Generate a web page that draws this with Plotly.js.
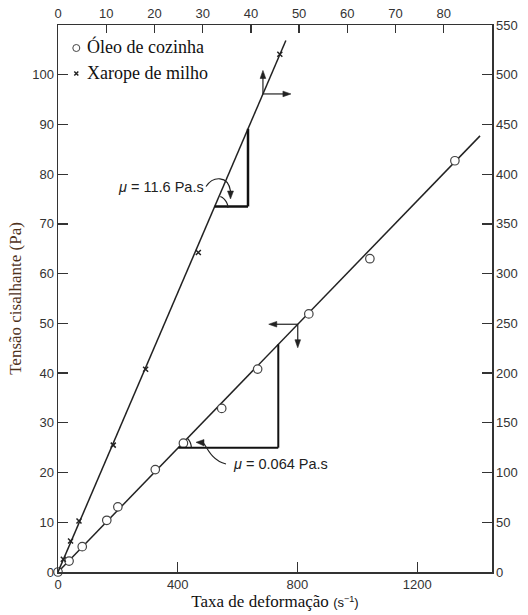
<!DOCTYPE html>
<html><head><meta charset="utf-8">
<script src="https://cdn.plot.ly/plotly-3.0.1.min.js"></script>
<style>html,body{margin:0;padding:0;background:#fff}</style>
</head><body>
<div id="chart" style="width:528px;height:615px"></div>
<script>
// Óleo de cozinha — eixo inferior (taxa, s^-1) e eixo esquerdo (tensão, Pa)
const oilRate   = [0, 37, 81, 163, 200, 325, 419, 547, 667, 838, 1042, 1326];
const oilStress = [0, 2.2, 5.1, 10.4, 13.1, 20.6, 25.9, 32.9, 40.8, 51.9, 63.0, 82.7];
const oilFitRate   = [0, 1410];
const oilFitStress = [0, 87.7];
// Xarope de milho — eixo superior (taxa) e eixo direito (tensão)
const syrupRate   = [1.1, 2.6, 4.35, 11.46, 18.17, 29.1, 46.0];
const syrupStress = [12.8, 31.2, 51.3, 127.6, 203.8, 321.2, 520.6];
const syrupFitRate   = [0, 47.25];
const syrupFitStress = [0, 534.4];
// Ticks
const bottomTicks = [0, 400, 800, 1200];
const leftTicks   = [0, 10, 20, 30, 40, 50, 60, 70, 80, 90, 100];
const topTicks    = [0, 10, 20, 30, 40, 50, 60, 70, 80];
const rightTicks  = [0, 50, 100, 150, 200, 250, 300, 350, 400, 450, 500, 550];

const W = 528, H = 615, ML = 58, MR = 36, MT = 25, MB = 43;
const PW = W - ML - MR, PH = H - MT - MB;
const X1 = [0, 1450], Y1 = [0, 110], X2 = [0, 90], Y2 = [0, 550];
const fx = px => (px - ML) / PW;
const fy = py => (H - MB - py) / PH;
const P = (px, py) => fx(px).toFixed(5) + ',' + fy(py).toFixed(5);
const pxX = (v, r) => ML + (v - r[0]) / (r[1] - r[0]) * PW;
const pxY = (v, r) => H - MB - (v - r[0]) / (r[1] - r[0]) * PH;

const oilSlope = oilFitStress[1] / oilFitRate[1];
const syrSlope = syrupFitStress[1] / syrupFitRate[1];

const ink = '#222';
const sans = 'Liberation Sans, Arial, sans-serif';
const serif = 'Liberation Serif, Times New Roman, serif';
const tickFont = {family: sans, size: 13, color: '#333'};

const traces = [
  {x: oilFitRate, y: oilFitStress, mode: 'lines', line: {color: ink, width: 1.5},
   xaxis: 'x', yaxis: 'y', showlegend: false, hoverinfo: 'skip'},
  {x: syrupFitRate, y: syrupFitStress, mode: 'lines', line: {color: ink, width: 1.5},
   xaxis: 'x2', yaxis: 'y2', showlegend: false, hoverinfo: 'skip'},
  {x: syrupRate, y: syrupStress, mode: 'markers', name: 'Xarope de milho',
   marker: {symbol: 'x-thin-open', size: 5, color: ink, line: {color: ink, width: 1.5}},
   xaxis: 'x2', yaxis: 'y2', showlegend: false, cliponaxis: false},
  {x: oilRate, y: oilStress, mode: 'markers', name: 'Óleo de cozinha',
   marker: {symbol: 'circle', size: 8.5, color: '#fff', line: {color: '#444', width: 1.2}},
   xaxis: 'x', yaxis: 'y', showlegend: false, cliponaxis: false}
];

function arcPath(cx, cy, r, a0, a1) {
  let d = '';
  const n = 12;
  for (let i = 0; i <= n; i++) {
    const a = (a0 + (a1 - a0) * i / n) * Math.PI / 180;
    d += (i ? ' L' : 'M') + P(cx + r * Math.cos(a), cy - r * Math.sin(a));
  }
  return d;
}
const pathShape = (d, w, fill) => ({type: 'path', xref: 'paper', yref: 'paper', path: d,
  line: {color: ink, width: w}, fillcolor: fill || 'rgba(0,0,0,0)'});

// arrow (pixel coords) from (x0,y0) to tip (x1,y1)
function arrowShapes(x0, y0, x1, y1) {
  const L = Math.hypot(x1 - x0, y1 - y0), ux = (x1 - x0) / L, uy = (y1 - y0) / L;
  const hl = 8, hw = 2.8;
  const bx = x1 - ux * hl, by = y1 - uy * hl;
  return [
    pathShape('M' + P(x0, y0) + ' L' + P(bx + ux, by + uy), 1.2),
    pathShape('M' + P(x1, y1) + ' L' + P(bx - uy * hw, by + ux * hw) + ' L' + P(bx + uy * hw, by - ux * hw) + ' Z', 0.6, ink)
  ];
}

// triangle anchors
const sx0 = 32.5, sx1 = 39.4;
const ox0 = 402, ox1 = 736;
// arrow junctions on fitted lines
const sj = 42.5, oj = 801;
const sjx = pxX(sj, X2), sjy = pxY(syrSlope * sj, Y2);
const ojx = pxX(oj, X1), ojy = pxY(oilSlope * oj, Y1);

const shapes = [
  // syrup slope triangle
  {type: 'line', xref: 'x2', yref: 'y2', x0: sx0, y0: syrSlope * sx0, x1: sx1, y1: syrSlope * sx0, line: {color: '#111', width: 2.5}},
  {type: 'line', xref: 'x2', yref: 'y2', x0: sx1, y0: syrSlope * sx0, x1: sx1, y1: syrSlope * sx1, line: {color: '#111', width: 2.5}},
  // oil slope triangle
  {type: 'line', xref: 'x', yref: 'y', x0: ox0, y0: oilSlope * ox0, x1: ox1, y1: oilSlope * ox0, line: {color: '#111', width: 2}},
  {type: 'line', xref: 'x', yref: 'y', x0: ox1, y0: oilSlope * ox0, x1: ox1, y1: oilSlope * ox1, line: {color: '#111', width: 2}},
  // angle arcs
  pathShape(arcPath(215, 208.3, 13, 66, 2), 1.2),
  pathShape(arcPath(178.3, 447.7, 13, 45, 2), 1.2),
  // leaders
  pathShape('M' + P(206, 186.5) + ' C' + P(213, 176) + ' ' + P(228, 175) + ' ' + P(230.5, 191), 1.2),
  pathShape('M' + P(227.5, 191) + ' L' + P(233.5, 191) + ' L' + P(230.5, 199) + ' Z', 0.5, ink),
  pathShape('M' + P(226, 464) + ' C' + P(214, 461) + ' ' + P(209, 452) + ' ' + P(204, 443.5), 1.2),
  pathShape('M' + P(204, 439.5) + ' L' + P(204, 446) + ' L' + P(196, 442.3) + ' Z', 0.5, ink),
  // axis-direction arrows
  ...arrowShapes(sjx, sjy, sjx, sjy - 23.5),
  ...arrowShapes(sjx, sjy, sjx + 28, sjy),
  ...arrowShapes(ojx, ojy, ojx - 29, ojy),
  ...arrowShapes(ojx, ojy, ojx, ojy + 23.5),
  // legend symbols
  {type: 'circle', xref: 'paper', yref: 'paper', xsizemode: 'pixel', ysizemode: 'pixel',
   xanchor: fx(76.3), yanchor: fy(48), x0: -3.5, x1: 3.5, y0: -3.5, y1: 3.5, line: {color: '#444', width: 1}},
  {type: 'path', xref: 'paper', yref: 'paper', xsizemode: 'pixel', ysizemode: 'pixel',
   xanchor: fx(76.3), yanchor: fy(73.5), path: 'M-2,-2 L2,2 M-2,2 L2,-2', line: {color: ink, width: 1.5}}
];

const annotations = [
  {xref: 'paper', yref: 'paper', x: fx(206), y: fy(187), xanchor: 'right', yanchor: 'middle',
   text: '<i>μ</i> = 11.6 Pa.s', showarrow: false, font: {family: sans, size: 14.5, color: ink}},
  {xref: 'paper', yref: 'paper', x: fx(231), y: fy(464), xanchor: 'left', yanchor: 'middle',
   text: '<i>μ</i> = 0.064 Pa.s', showarrow: false, font: {family: sans, size: 14.5, color: ink}},
  {xref: 'paper', yref: 'paper', x: fx(85), y: fy(47), xanchor: 'left', yanchor: 'middle',
   text: 'Óleo de cozinha', showarrow: false, font: {family: serif, size: 18, color: '#111'}},
  {xref: 'paper', yref: 'paper', x: fx(85), y: fy(73), xanchor: 'left', yanchor: 'middle',
   text: 'Xarope de milho', showarrow: false, font: {family: serif, size: 18, color: '#111'}}
];

const axBase = {showgrid: false, zeroline: false, showline: true, linecolor: '#333', linewidth: 1.5,
  ticks: 'inside', tickcolor: '#333', tickwidth: 1.3, tickfont: tickFont, fixedrange: true};

const layout = {
  width: W, height: H, margin: {l: ML, r: MR, t: MT, b: MB},
  paper_bgcolor: '#fff', plot_bgcolor: '#fff', showlegend: false,
  xaxis: Object.assign({}, axBase, {range: X1, tickmode: 'array', tickvals: bottomTicks,
    ticklen: 10, side: 'bottom',
    title: {text: 'Taxa de deformação <span style="font-family:Liberation Sans,Arial,sans-serif;font-size:13px">(s<sup>−1</sup>)</span>',
      font: {family: serif, size: 17, color: '#111'}, standoff: 4}}),
  yaxis: Object.assign({}, axBase, {range: Y1, tickmode: 'array', tickvals: leftTicks,
    ticklen: 10, side: 'left',
    title: {text: 'Tensão cisalhante (Pa)', font: {family: serif, size: 17, color: '#4e311a'}, standoff: 6}}),
  xaxis2: Object.assign({}, axBase, {range: X2, tickmode: 'array', tickvals: topTicks,
    ticklen: 8, side: 'top', overlaying: 'x', anchor: 'y'}),
  yaxis2: Object.assign({}, axBase, {range: Y2, tickmode: 'array', tickvals: rightTicks,
    ticklen: 10, side: 'right', overlaying: 'y', anchor: 'x'}),
  shapes, annotations
};

Plotly.newPlot('chart', traces, layout, {displayModeBar: false, staticPlot: true});
</script>
</body></html>
